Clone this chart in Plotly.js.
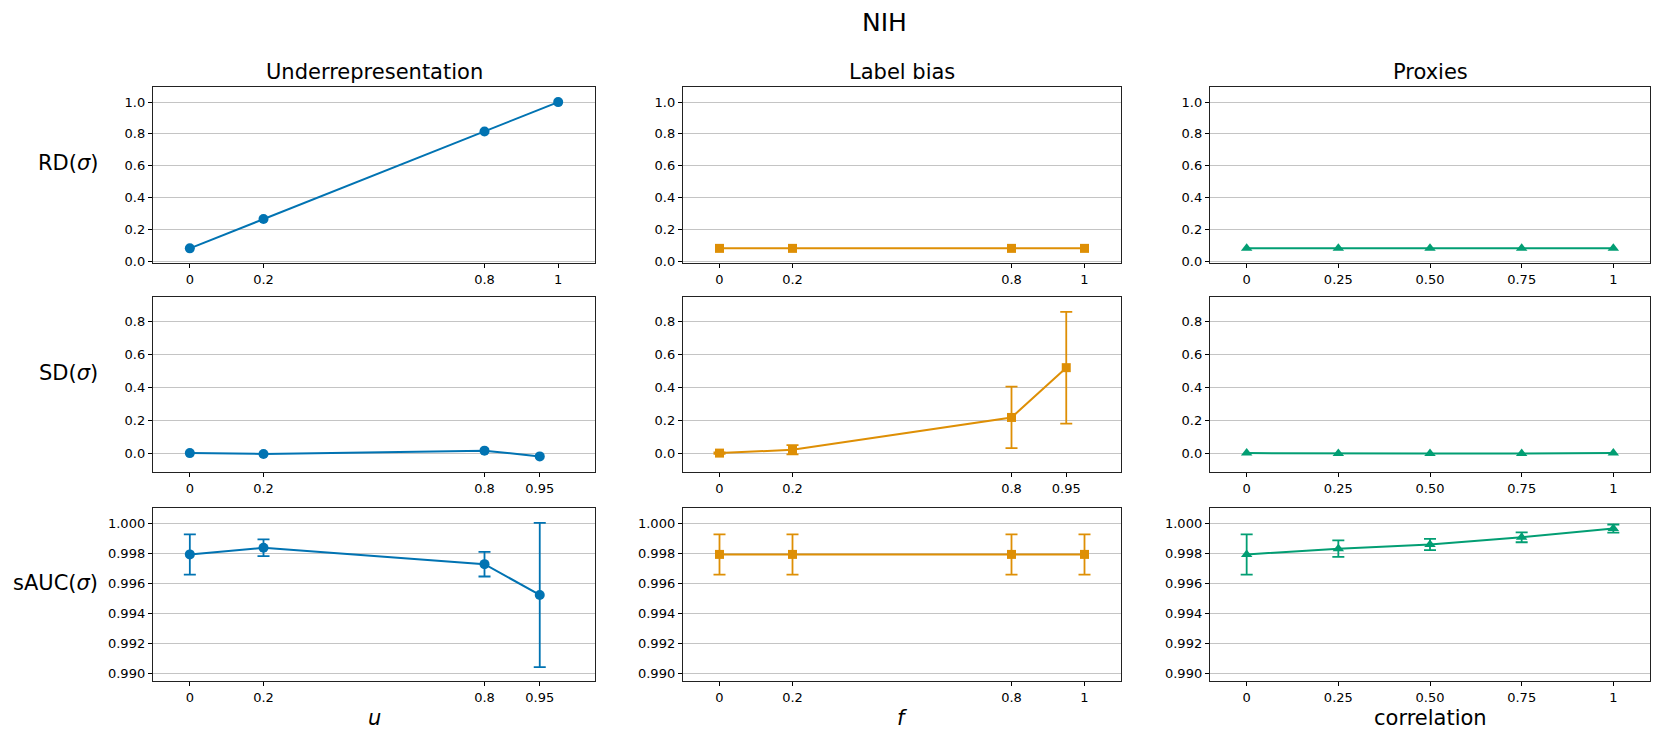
<!DOCTYPE html>
<html>
<head>
<meta charset="utf-8">
<script src="https://cdn.plot.ly/plotly-3.0.1.min.js"></script>
<style>html,body{margin:0;padding:0;background:#fff;}#chart{width:1660px;height:740px;}</style>
</head>
<body>
<div id="chart"></div>
<script>
// ---------- data ----------
const colTitles = ["Underrepresentation", "Label bias", "Proxies"];
const rowLabels = ["RD(<i>σ</i>)", "SD(<i>σ</i>)", "sAUC(<i>σ</i>)"];
const xTitles = ["<i>u</i>", "<i>f</i>", "correlation"];

// Underrepresentation
const underX_RD = [0, 0.2, 0.8, 1];
const underX_other = [0, 0.2, 0.8, 0.95];
const underRD = [0.08, 0.265, 0.815, 1.0];
const underSD = [0.0, -0.005, 0.015, -0.02];
const underSAUC = [0.99791, 0.99835, 0.99726, 0.99521];
const underSAUCerr = [0.00134, 0.00056, 0.00082, 0.0048];

// Label bias
const labelX_RD = [0, 0.2, 0.8, 1];
const labelX_SD = [0, 0.2, 0.8, 0.95];
const labelX_SAUC = [0, 0.2, 0.8, 1];
const labelRD = [0.08, 0.08, 0.08, 0.08];
const labelSD = [0.0, 0.02, 0.217, 0.52];
const labelSDerr = [0.004, 0.028, 0.187, 0.34];
const labelSAUC = [0.99791, 0.99791, 0.99791, 0.99791];
const labelSAUCerr = [0.00134, 0.00134, 0.00134, 0.00134];

// Proxies
const proxX = [0, 0.25, 0.5, 0.75, 1];
const proxTickText = ["0", "0.25", "0.50", "0.75", "1"];
const proxRD = [0.08, 0.08, 0.08, 0.08, 0.08];
const proxSD = [0.0, -0.003, -0.003, -0.003, 0.0];
const proxSAUC = [0.99791, 0.99829, 0.99857, 0.99905, 0.99963];
const proxSAUCerr = [0.00134, 0.00055, 0.00037, 0.00033, 0.00027];

const tickText4RD = ["0", "0.2", "0.8", "1"];
const tickText4 = ["0", "0.2", "0.8", "0.95"];

const yTickVals = [
  [0, 0.2, 0.4, 0.6, 0.8, 1.0],
  [0, 0.2, 0.4, 0.6, 0.8],
  [0.990, 0.992, 0.994, 0.996, 0.998, 1.000]
];
const yTickText = [
  ["0.0", "0.2", "0.4", "0.6", "0.8", "1.0"],
  ["0.0", "0.2", "0.4", "0.6", "0.8"],
  ["0.990", "0.992", "0.994", "0.996", "0.998", "1.000"]
];

// ---------- styling ----------
const colors = ["#0173b2", "#de8f05", "#029e73"];
const symbols = ["circle", "square", "triangle-up"];
const msizes = [10, 9, 10];
const yRanges = [[-0.012, 1.095], [-0.115, 0.95], [0.98948, 1.001]];

const colDom = [[153/1660, 595/1660], [683/1660, 1121/1660], [1210/1660, 1650/1660]];
const rowPx = [[87, 263], [297, 472], [508, 681]];
const rowDom = rowPx.map(r => [1 - r[1]/740, 1 - r[0]/740]);

const panels = [
  // row 0: RD
  [{x: underX_RD, y: underRD, tv: underX_RD, tt: tickText4RD},
   {x: labelX_RD, y: labelRD, tv: labelX_RD, tt: tickText4RD},
   {x: proxX, y: proxRD, tv: proxX, tt: proxTickText}],
  // row 1: SD
  [{x: underX_other, y: underSD, tv: underX_other, tt: tickText4},
   {x: labelX_SD, y: labelSD, e: labelSDerr, tv: labelX_SD, tt: tickText4},
   {x: proxX, y: proxSD, tv: proxX, tt: proxTickText}],
  // row 2: sAUC
  [{x: underX_other, y: underSAUC, e: underSAUCerr, tv: underX_other, tt: tickText4},
   {x: labelX_SAUC, y: labelSAUC, e: labelSAUCerr, tv: labelX_SAUC, tt: tickText4RD},
   {x: proxX, y: proxSAUC, e: proxSAUCerr, tv: proxX, tt: proxTickText}]
];

const font = "DejaVu Sans, Arial, sans-serif";
const traces = [];
const layout = {
  width: 1660, height: 740,
  margin: {l: 0, r: 0, t: 0, b: 0},
  paper_bgcolor: "#fff", plot_bgcolor: "#fff",
  showlegend: false,
  font: {family: font, size: 13, color: "#000"},
  annotations: []
};

let k = 0;
for (let r = 0; r < 3; r++) {
  for (let c = 0; c < 3; c++) {
    k++;
    const p = panels[r][c];
    const ax = k === 1 ? "" : String(k);
    const t = {
      type: "scatter", mode: "lines+markers",
      x: p.x, y: p.y,
      xaxis: "x" + ax, yaxis: "y" + ax,
      line: {color: colors[c], width: 2},
      marker: {color: colors[c], symbol: symbols[c], size: msizes[c]},
      hoverinfo: "x+y"
    };
    if (p.e) {
      t.error_y = {type: "data", array: p.e, visible: true, color: colors[c], thickness: 1.8, width: 6};
    }
    traces.push(t);
    layout["xaxis" + ax] = {
      domain: colDom[c], anchor: "y" + ax,
      range: [-0.1, 1.1],
      tickmode: "array", tickvals: p.tv, ticktext: p.tt,
      ticks: "outside", ticklen: 4, tickwidth: 1, tickcolor: "#000",
      showgrid: false, zeroline: false,
      showline: true, mirror: true, linecolor: "#222", linewidth: 1.2,
      tickfont: {family: font, size: 13, color: "#000"}
    };
    layout["yaxis" + ax] = {
      domain: rowDom[r], anchor: "x" + ax,
      range: yRanges[r],
      tickmode: "array", tickvals: yTickVals[r], ticktext: yTickText[r],
      ticks: "outside", ticklen: 4, tickwidth: 1, tickcolor: "#000",
      showgrid: true, gridcolor: "#c4c4c4", gridwidth: 1,
      zeroline: false,
      showline: true, mirror: true, linecolor: "#222", linewidth: 1.2,
      tickfont: {family: font, size: 13, color: "#000"}
    };
  }
}

// suptitle
layout.annotations.push({
  text: "NIH", xref: "paper", yref: "paper", x: 884/1660, y: 1 - 22/740,
  xanchor: "center", yanchor: "middle", showarrow: false,
  font: {family: font, size: 25, color: "#000"}
});
// column titles and x-axis titles
for (let c = 0; c < 3; c++) {
  layout.annotations.push({
    text: colTitles[c], xref: "paper", yref: "paper",
    x: (colDom[c][0] + colDom[c][1]) / 2, y: 1 - 72/740,
    xanchor: "center", yanchor: "middle", showarrow: false,
    font: {family: font, size: 21, color: "#000"}
  });
  layout.annotations.push({
    text: xTitles[c], xref: "paper", yref: "paper",
    x: (colDom[c][0] + colDom[c][1]) / 2, y: 1 - 718/740,
    xanchor: "center", yanchor: "middle", showarrow: false,
    font: {family: font, size: 21, color: "#000"}
  });
}
// row labels (sit slightly above the row centre, as in the reference)
for (let r = 0; r < 3; r++) {
  const cy = (rowPx[r][0] + rowPx[r][1]) / 2 - 12;
  layout.annotations.push({
    text: rowLabels[r], xref: "paper", yref: "paper",
    x: 100/1660, y: 1 - cy/740,
    xanchor: "right", yanchor: "middle", showarrow: false,
    font: {family: font, size: 21, color: "#000"}
  });
}

Plotly.newPlot("chart", traces, layout, {staticPlot: true, displayModeBar: false});
</script>
</body>
</html>
